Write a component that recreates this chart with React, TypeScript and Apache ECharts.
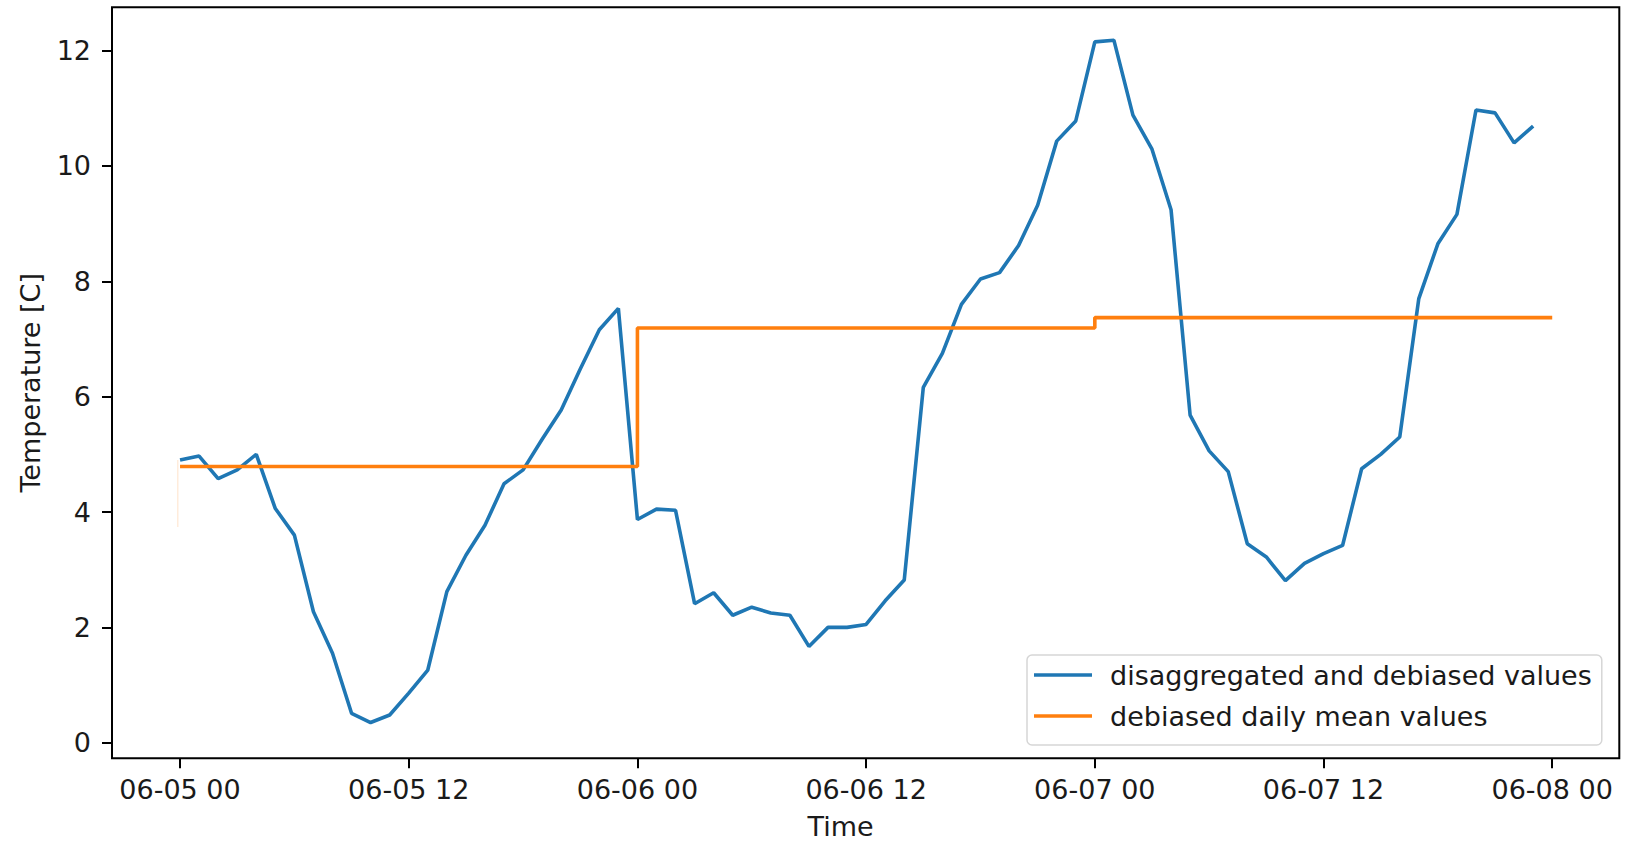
import { useEffect, useRef } from "react";
import * as echarts from "echarts";

// Hour offsets from 06-05 00:00 where the x-axis is labelled
const tickHours = [0, 12, 24, 36, 48, 60, 72];
const tickLabels = ["06-05 00", "06-05 12", "06-06 00", "06-06 12", "06-07 00", "06-07 12", "06-08 00"];
const yTicks = [0, 2, 4, 6, 8, 10, 12];

// Hourly temperatures (hour 0 = 06-05 00:00)
const hourlyTemps = [
  4.9, 4.97, 4.58, 4.73, 5.0, 4.06, 3.6, 2.27, 1.55, 0.51, 0.35, 0.48,
  0.86, 1.26, 2.62, 3.25, 3.77, 4.49, 4.73, 5.26, 5.77, 6.48, 7.16, 7.53,
  3.87, 4.05, 4.03, 2.41, 2.6, 2.21, 2.35, 2.25, 2.21, 1.67, 2.0, 2.0,
  2.05, 2.46, 2.82, 6.16, 6.75, 7.6, 8.04, 8.15, 8.62, 9.32, 10.43, 10.78,
  12.15, 12.18, 10.88, 10.29, 9.24, 5.68, 5.06, 4.7, 3.45, 3.22, 2.81, 3.11,
  3.28, 3.42, 4.75, 5.0, 5.3, 7.7, 8.65, 9.16, 10.97, 10.92, 10.4, 10.69,
];

// Daily means, held from each day start until the next (last value closes the final day)
const dayStartHours = [0, 24, 48, 72];
const dailyMeans = [4.79, 7.19, 7.37, 7.37];

// Faint leading edge of the daily-mean trace
const edgeHours = [-0.12, -0.12];
const edgeTemps = [4.9, 3.74];

const SERIES_HOURLY = "disaggregated and debiased values";
const SERIES_DAILY = "debiased daily mean values";

const FONT = "DejaVu Sans";
const TEXT = "#1a1a1a";
const BLUE = "#1f77b4";
const ORANGE = "#ff7f0e";

export default function App() {
  const ref = useRef<HTMLDivElement>(null);

  useEffect(() => {
    if (!ref.current) return;
    const chart = echarts.init(ref.current, undefined, { renderer: "svg" });

    chart.setOption({
      animation: false,
      backgroundColor: "#ffffff",
      textStyle: { fontFamily: FONT },
      grid: {
        left: 112,
        top: 7.3,
        width: 1507.3,
        height: 751,
        show: true,
        borderColor: "#000",
        borderWidth: 2,
        backgroundColor: "transparent",
        containLabel: false,
        outerBoundsMode: "none",
      },
      xAxis: {
        type: "value",
        min: -3.57,
        max: 75.52,
        name: "Time",
        nameLocation: "middle",
        nameGap: 55,
        nameTextStyle: {
          fontFamily: FONT,
          fontSize: 27,
          color: TEXT,
          padding: [0, 50, 0, 0],
        },
        axisLine: { show: false, onZero: false },
        splitLine: { show: false },
        axisTick: {
          show: true,
          length: 10,
          customValues: tickHours,
          lineStyle: { color: "#000", width: 2 },
        },
        axisLabel: {
          customValues: tickHours,
          margin: 18,
          fontFamily: FONT,
          fontSize: 27,
          color: TEXT,
          formatter: (v: number) => {
            const i = tickHours.indexOf(Math.round(v));
            return i >= 0 ? tickLabels[i] : "";
          },
        },
      },
      yAxis: {
        type: "value",
        min: -0.27,
        max: 12.75,
        name: "Temperature [C]",
        nameLocation: "middle",
        nameGap: 68,
        nameTextStyle: { fontFamily: FONT, fontSize: 27, color: TEXT },
        axisLine: { show: false, onZero: false },
        splitLine: { show: false },
        axisTick: {
          show: true,
          length: 10,
          customValues: yTicks,
          lineStyle: { color: "#000", width: 2 },
        },
        axisLabel: {
          customValues: yTicks,
          margin: 21,
          fontFamily: FONT,
          fontSize: 27,
          color: TEXT,
        },
      },
      legend: {
        data: [SERIES_HOURLY, SERIES_DAILY],
        orient: "vertical",
        left: 1027,
        top: 655,
        icon: "rect",
        itemWidth: 58,
        itemHeight: 3.5,
        itemGap: 11,
        padding: [5, 10, 14, 7],
        backgroundColor: "#ffffff",
        borderColor: "#d6d6d6",
        borderWidth: 1.5,
        borderRadius: 5,
        selectedMode: false,
        textStyle: {
          fontFamily: FONT,
          fontSize: 27,
          color: TEXT,
          lineHeight: 30,
          padding: [0, 0, 0, 13],
        },
      },
      series: [
        {
          name: "edge",
          type: "line",
          silent: true,
          symbol: "none",
          color: "rgba(255,127,14,0.15)",
          lineStyle: { width: 1.5, color: "rgba(255,127,14,0.15)" },
          data: edgeHours.map((h, i) => [h, edgeTemps[i]]),
          z: 1,
        },
        {
          name: SERIES_HOURLY,
          type: "line",
          symbol: "none",
          color: BLUE,
          lineStyle: { width: 3.6, color: BLUE },
          data: hourlyTemps.map((v, i) => [i, v]),
          z: 2,
        },
        {
          name: SERIES_DAILY,
          type: "line",
          symbol: "none",
          step: "end",
          color: ORANGE,
          lineStyle: { width: 3.6, color: ORANGE },
          data: dayStartHours.map((h, i) => [h, dailyMeans[i]]),
          z: 3,
        },
      ],
    });

    return () => chart.dispose();
  }, []);

  return (
    <div
      ref={ref}
      style={{ position: "absolute", left: 0, top: 0, width: 1626, height: 841 }}
    />
  );
}
